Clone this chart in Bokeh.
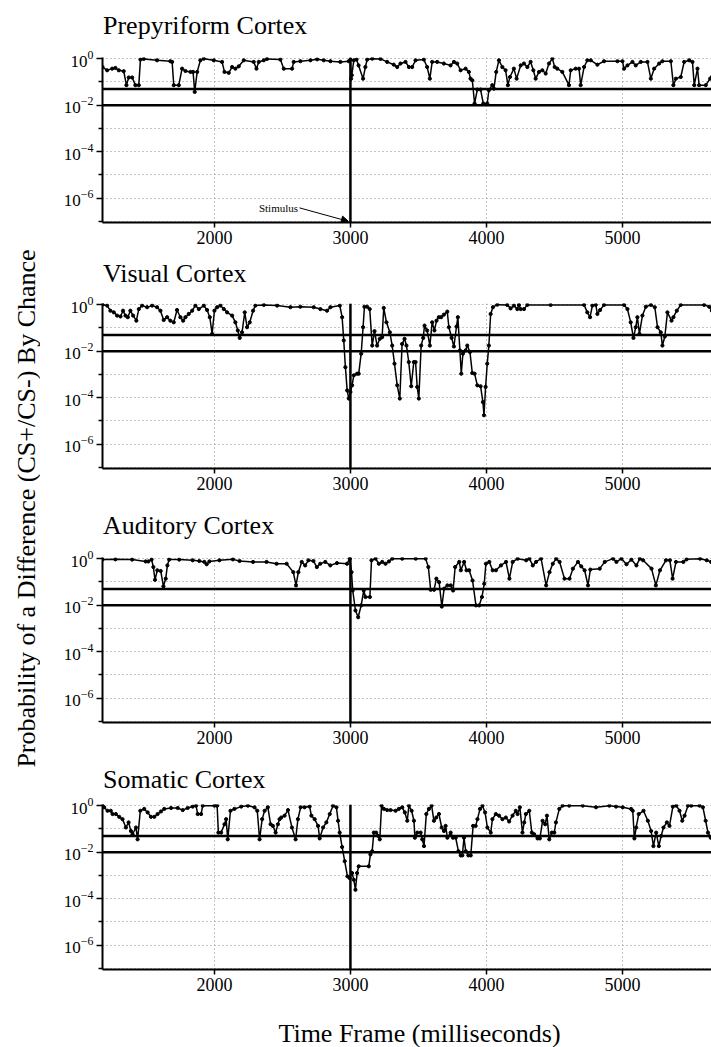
import math
from bokeh.plotting import figure
from bokeh.layouts import row, column
from bokeh.models import Range1d, FixedTicker, Span, Label, Arrow, NormalHead
from bokeh.embed import file_html
from bokeh.resources import INLINE

SERIF = "Liberation Serif"

# ---------------- data ----------------
panel_titles = ["Prepyriform Cortex", "Visual Cortex", "Auditory Cortex", "Somatic Cortex"]
x_ticks = [2000, 3000, 4000, 5000]
y_major_ticks = [1.0, 1e-2, 1e-4, 1e-6]
y_minor_ticks = [1e-1, 1e-3, 1e-5, 1e-7]
significance_levels = [0.05, 0.01]
stimulus_ms = 3000
time_window = (1177, 5655)
y_window_log10 = (-7.05, 0.05)

prepyriform_ms = [
    1177, 1211, 1248, 1272, 1297, 1333, 1353, 1370, 1395, 1419,
    1444, 1456, 1480, 1578, 1676, 1689, 1701, 1738, 1762, 1787,
    1824, 1843, 1855, 1873, 1897, 1922, 1995, 2056, 2074, 2105,
    2130, 2154, 2179, 2216, 2289, 2309, 2326, 2363, 2387, 2485,
    2510, 2571, 2583, 2632, 2706, 2755, 2804, 2853, 2926, 2988,
    3000, 3005, 3010, 3025, 3045, 3060, 3093, 3110, 3123, 3160,
    3221, 3270, 3319, 3344, 3368, 3405, 3430, 3454, 3479, 3540,
    3564, 3584, 3601, 3638, 3687, 3736, 3761, 3785, 3810, 3847,
    3871, 3883, 3896, 3913, 3933, 3957, 3977, 4006, 4018, 4043,
    4055, 4072, 4092, 4117, 4141, 4158, 4173, 4202, 4222, 4252,
    4276, 4301, 4325, 4345, 4362, 4387, 4411, 4436, 4460, 4485,
    4502, 4521, 4558, 4607, 4620, 4656, 4681, 4693, 4718, 4742,
    4767, 4816, 4865, 4963, 5000, 5012, 5037, 5074, 5098, 5135,
    5184, 5209, 5233, 5270, 5294, 5356, 5375, 5393, 5429, 5454,
    5491, 5515, 5528, 5552, 5564, 5613, 5645, 5658]
prepyriform_log10p = [
    -0.36, -0.50, -0.43, -0.40, -0.50, -0.54, -1.14, -0.81, -0.81, -1.14,
    -1.14, -0.04, -0.01, -0.07, -0.11, -0.14, -1.14, -1.14, -0.43, -0.53,
    -0.57, -0.57, -1.43, -0.57, -0.07, 0.00, -0.07, -0.14, -0.57, -0.61,
    -0.36, -0.43, -0.33, -0.07, -0.14, -0.43, -0.14, -0.07, -0.01, -0.04,
    -0.43, -0.43, -0.14, -0.11, -0.07, -0.03, -0.07, -0.11, -0.14, -0.11,
    -0.04, -0.86, -0.71, -0.07, -0.04, -0.29, -0.86, -0.36, -0.04, 0.00,
    -0.01, -0.14, -0.26, -0.36, -0.21, -0.14, -0.36, -0.36, -0.07, -0.04,
    -0.36, -0.86, -0.14, -0.14, -0.21, -0.29, -0.14, -0.21, -0.50, -0.43,
    -0.57, -0.86, -0.93, -1.93, -1.33, -1.33, -1.93, -1.93, -1.36, -1.14,
    -1.29, -0.57, -0.07, -0.36, -0.50, -1.14, -0.79, -0.43, -0.86, -0.29,
    -0.21, -0.36, -0.14, -0.50, -0.86, -0.57, -0.50, -0.64, -0.21, 0.00,
    -0.36, -0.43, -0.57, -1.14, -0.50, -0.43, -0.43, -1.14, -0.36, -0.07,
    -0.07, -0.26, -0.11, -0.11, -0.11, -0.43, -0.29, -0.14, -0.29, -0.14,
    -0.14, -0.86, -0.43, -0.21, -0.11, -0.11, -1.14, -0.86, -0.79, -0.14,
    -0.07, -0.14, -1.14, -0.43, -1.14, -1.14, -0.86, -0.79]

visual_ms = [
    1177, 1211, 1235, 1260, 1284, 1309, 1328, 1346, 1363, 1382,
    1402, 1426, 1444, 1468, 1505, 1542, 1578, 1603, 1627, 1652,
    1676, 1701, 1725, 1750, 1770, 1787, 1811, 1836, 1860, 1885,
    1922, 1946, 1966, 1983, 2000, 2020, 2044, 2069, 2093, 2130,
    2154, 2172, 2186, 2203, 2223, 2240, 2260, 2284, 2301, 2363,
    2461, 2559, 2632, 2730, 2779, 2828, 2853, 2922, 2939, 2951,
    2963, 2976, 2988, 3000, 3012, 3025, 3049, 3061, 3079, 3093,
    3103, 3123, 3142, 3160, 3177, 3196, 3216, 3233, 3245, 3265,
    3290, 3307, 3324, 3344, 3363, 3380, 3398, 3412, 3429, 3447,
    3466, 3479, 3491, 3503, 3520, 3535, 3545, 3564, 3584, 3601,
    3618, 3633, 3650, 3667, 3687, 3712, 3724, 3744, 3761, 3780,
    3790, 3805, 3815, 3827, 3847, 3859, 3879, 3896, 3913, 3933,
    3957, 3974, 3982, 3994, 4006, 4018, 4031, 4048, 4080, 4153,
    4178, 4202, 4227, 4239, 4252, 4276, 4301, 4472, 4718, 4742,
    4762, 4779, 4804, 4816, 4836, 4865, 5012, 5037, 5061, 5081,
    5098, 5110, 5125, 5147, 5172, 5209, 5238, 5258, 5282, 5294,
    5312, 5331, 5361, 5375, 5400, 5429, 5601, 5638, 5658]
visual_log10p = [
    0.00, -0.04, -0.26, -0.33, -0.47, -0.51, -0.26, -0.47, -0.54, -0.26,
    -0.47, -0.69, -0.19, -0.04, -0.11, -0.04, -0.11, -0.26, -0.66, -0.54,
    -0.69, -0.76, -0.23, -0.54, -0.69, -0.54, -0.40, -0.26, -0.04, -0.19,
    -0.04, -0.23, -0.54, -1.26, -0.26, -0.11, -0.04, -0.19, -0.33, -0.47,
    -0.76, -1.11, -1.43, -1.19, -0.33, -0.97, -0.76, -0.26, -0.04, -0.01,
    -0.04, -0.11, -0.09, -0.11, -0.19, -0.26, -0.11, -0.04, -0.54, -1.54,
    -2.69, -3.69, -4.04, -3.76, -3.47, -3.04, -2.97, -2.97, -2.11, -0.97,
    -0.09, -0.09, -0.19, -1.76, -1.14, -1.76, -1.47, -1.40, -0.14, -0.76,
    -1.19, -1.76, -2.54, -3.47, -4.04, -1.69, -1.47, -1.76, -2.47, -3.51,
    -2.47, -2.47, -3.54, -4.04, -1.76, -1.43, -0.90, -1.11, -1.76, -0.76,
    -1.11, -0.69, -0.54, -0.54, -0.43, -0.30, -0.97, -1.43, -1.80, -0.94,
    -0.54, -1.97, -2.97, -2.11, -1.97, -1.76, -2.04, -2.94, -2.97, -3.47,
    -3.51, -4.19, -4.76, -3.54, -2.54, -1.76, -0.40, -0.11, 0.00, -0.01,
    -0.16, -0.04, -0.19, -0.01, -0.19, -0.19, -0.01, -0.01, -0.01, -0.33,
    -0.54, -0.04, -0.01, -0.40, -0.23, -0.01, -0.01, -0.19, -0.76, -1.43,
    -0.97, -0.54, -1.26, -0.47, -0.09, -0.01, -0.11, -0.97, -1.19, -1.76,
    -1.37, -0.33, -0.69, -0.54, -0.26, -0.01, -0.01, -0.09, -0.26]

auditory_ms = [
    1177, 1272, 1395, 1494, 1514, 1538, 1551, 1563, 1580, 1605,
    1625, 1642, 1654, 1667, 1741, 1840, 1889, 1926, 1943, 1963,
    2037, 2136, 2185, 2284, 2383, 2457, 2531, 2580, 2600, 2617,
    2642, 2667, 2691, 2728, 2753, 2778, 2815, 2852, 2901, 2975,
    2995, 3008, 3017, 3037, 3057, 3079, 3098, 3111, 3143, 3155,
    3185, 3209, 3234, 3258, 3283, 3308, 3381, 3480, 3553, 3573,
    3590, 3615, 3632, 3652, 3672, 3689, 3713, 3738, 3755, 3770,
    3800, 3812, 3836, 3854, 3873, 3898, 3923, 3947, 3967, 3984,
    3996, 4021, 4046, 4070, 4107, 4144, 4169, 4193, 4230, 4292,
    4316, 4341, 4365, 4402, 4439, 4464, 4488, 4513, 4538, 4574,
    4611, 4636, 4673, 4697, 4722, 4747, 4764, 4833, 4870, 4931,
    4956, 4993, 5030, 5066, 5103, 5128, 5152, 5214, 5246, 5276,
    5320, 5349, 5369, 5394, 5448, 5472, 5571, 5620, 5652]
auditory_log10p = [
    -0.04, -0.03, -0.04, -0.12, -0.12, -0.04, -0.36, -0.91, -0.50, -0.53,
    -1.19, -0.86, -0.29, -0.04, -0.04, -0.07, -0.10, -0.14, -0.24, -0.12,
    -0.07, -0.03, -0.10, -0.14, -0.14, -0.22, -0.22, -0.58, -1.15, -0.58,
    -0.14, -0.29, -0.07, -0.10, -0.36, -0.22, -0.14, -0.29, -0.19, -0.22,
    0.00, -0.58, -1.37, -2.23, -2.52, -2.01, -1.37, -1.65, -1.65, -0.07,
    0.00, -0.22, -0.14, -0.22, -0.12, 0.00, 0.00, 0.00, 0.00, -0.36,
    -1.34, -1.34, -0.86, -1.01, -2.06, -1.29, -1.15, -1.15, -1.37, -0.36,
    -0.14, -0.50, -0.14, -0.50, -0.50, -0.94, -2.01, -2.01, -1.65, -1.08,
    -0.22, -0.14, -0.50, -0.50, -0.29, -0.14, -0.86, -0.14, 0.00, -0.07,
    0.00, -0.29, -0.14, 0.00, -1.15, -0.58, -0.22, 0.00, -0.14, -0.86,
    -0.86, -0.43, -0.14, -0.33, -0.50, -1.15, -0.47, -0.43, -0.14, 0.00,
    -0.14, 0.00, -0.24, -0.04, -0.29, 0.00, -0.07, -0.43, -1.15, -0.50,
    -0.07, -0.07, -0.86, -0.14, -0.14, -0.03, 0.00, -0.07, -0.14]

somatic_ms = [
    1177, 1189, 1214, 1238, 1251, 1275, 1300, 1324, 1349, 1369,
    1386, 1398, 1423, 1435, 1455, 1484, 1509, 1533, 1558, 1582,
    1607, 1631, 1681, 1730, 1767, 1803, 1840, 1865, 1877, 1902,
    1914, 2000, 2020, 2029, 2049, 2074, 2086, 2098, 2118, 2147,
    2197, 2246, 2295, 2315, 2332, 2351, 2369, 2393, 2413, 2430,
    2450, 2467, 2479, 2491, 2516, 2541, 2570, 2597, 2614, 2634,
    2663, 2700, 2713, 2737, 2762, 2774, 2799, 2823, 2848, 2872,
    2897, 2909, 2921, 2939, 2958, 2978, 2995, 3012, 3025, 3037,
    3049, 3061, 3135, 3147, 3160, 3172, 3189, 3204, 3216, 3229,
    3246, 3270, 3295, 3332, 3356, 3381, 3400, 3418, 3430, 3450,
    3467, 3474, 3491, 3516, 3528, 3541, 3558, 3577, 3597, 3614,
    3631, 3651, 3671, 3688, 3700, 3713, 3737, 3754, 3774, 3794,
    3811, 3823, 3835, 3848, 3867, 3885, 3902, 3921, 3934, 3953,
    3971, 3990, 4007, 4032, 4044, 4069, 4093, 4118, 4143, 4167,
    4192, 4216, 4229, 4246, 4265, 4278, 4290, 4315, 4334, 4351,
    4376, 4393, 4413, 4432, 4445, 4462, 4481, 4499, 4511, 4536,
    4560, 4609, 4708, 4806, 4904, 4953, 5002, 5064, 5076, 5088,
    5101, 5120, 5155, 5187, 5211, 5228, 5248, 5268, 5285, 5302,
    5327, 5346, 5371, 5396, 5420, 5440, 5457, 5482, 5506, 5567,
    5592, 5612, 5629, 5649]
somatic_log10p = [
    0.00, -0.07, -0.22, -0.22, -0.36, -0.36, -0.48, -0.58, -0.94, -0.72,
    -1.09, -1.23, -0.94, -1.45, -0.22, -0.14, -0.29, -0.48, -0.48, -0.36,
    -0.25, -0.14, -0.10, -0.10, -0.19, -0.10, -0.04, 0.00, -0.36, -0.36,
    0.00, 0.00, 0.00, -1.16, -1.16, -0.80, -0.58, -1.45, -0.22, -0.14,
    -0.04, 0.00, -0.07, -0.22, -1.45, -0.58, -0.22, -0.07, -0.80, -0.87,
    -1.16, -0.80, -0.58, -0.51, -0.43, -0.19, -0.94, -1.45, -0.58, -0.07,
    -0.07, -0.04, -0.43, -0.58, -0.87, -1.41, -0.94, -0.72, -0.36, 0.00,
    -0.07, -0.65, -1.16, -1.78, -2.39, -3.04, -3.12, -2.90, -3.19, -3.62,
    -2.90, -2.61, -2.61, -2.10, -1.96, -1.16, -1.16, -1.30, -1.45, 0.00,
    -0.14, -0.19, -0.19, -0.22, -0.14, -0.07, -0.29, -0.65, 0.00, -0.22,
    -0.65, -1.38, -1.16, -1.16, -1.45, -1.74, -0.36, -0.14, 0.00, -0.65,
    -0.51, -0.36, -0.94, -1.09, -0.87, -1.38, -1.16, -1.38, -1.38, -1.96,
    -2.14, -2.14, -1.38, -1.96, -2.14, -2.14, -0.87, -0.87, -0.58, -0.14,
    0.00, -0.29, -0.94, -1.16, -0.58, -0.36, -0.43, -0.58, -0.51, -0.68,
    -0.43, -0.22, -0.36, -0.07, -1.16, -0.72, -0.36, -0.22, -1.16, -1.23,
    -1.41, -1.41, -0.65, -0.80, -0.43, -1.45, -1.16, -1.16, -0.72, -0.14,
    0.00, 0.00, 0.00, -0.07, 0.00, -0.04, -0.07, -0.14, -0.22, -1.41,
    -0.94, -0.36, -0.22, -0.65, -1.09, -1.74, -1.16, -1.74, -1.30, -0.94,
    -0.72, -0.87, -0.04, 0.00, -0.22, -0.65, -0.43, 0.00, 0.00, 0.00,
    -0.07, -0.65, -1.16, -1.38]

series = [
    (prepyriform_ms, prepyriform_log10p),
    (visual_ms, visual_log10p),
    (auditory_ms, auditory_log10p),
    (somatic_ms, somatic_log10p),
]

# ---------------- layout settings ----------------
LEFT_W = 40
PANEL_W = 671
TOTAL_H = 1047
FRAME_LEFT = 102          # frames of all stacked plots are aligned here
# title strip: (height, text-centre distance from strip bottom)
title_strips = [(45, 20), (40, 17), (40, 15), (37, 15)]
# panel: (height, border_top, border_bottom)
panel_geom = [(205, 12, 28), (210, 13, 32), (217, 17, 35), (207, 10, 32)]
XLABEL_H = 46
GRID_COLOR = "#8a8a8a"


def text_strip(height, width, text, x, y, size, angle=0.0, align="left"):
    s = figure(width=width, height=height,
               x_range=Range1d(0, 1), y_range=Range1d(0, 1),
               toolbar_location=None, output_backend="svg",
               x_axis_location=None, y_axis_location=None, min_border=0)
    s.outline_line_color = None
    s.grid.visible = False
    s.add_layout(Label(x=x, y=y, x_units="screen", y_units="screen", text=text,
                       angle=angle, text_align=align, text_baseline="middle",
                       text_font=SERIF, text_font_size=size, text_color="black"))
    return s


def make_panel(ms, logp, geom):
    h, bt, bb = geom
    p = figure(width=PANEL_W, height=h,
               x_range=Range1d(*time_window),
               y_range=Range1d(10 ** y_window_log10[0], 10 ** y_window_log10[1]),
               y_axis_type="log",
               toolbar_location=None, output_backend="svg",
               min_border_left=FRAME_LEFT - LEFT_W, min_border_right=0,
               min_border_top=bt, min_border_bottom=bb)
    p.outline_line_color = None
    p.background_fill_color = "white"
    p.border_fill_color = "white"

    xt = FixedTicker(ticks=x_ticks, minor_ticks=[])
    yt = FixedTicker(ticks=y_major_ticks, minor_ticks=y_minor_ticks)
    p.xaxis.ticker = xt
    p.yaxis.ticker = yt
    p.xgrid.ticker = xt
    p.ygrid.ticker = yt

    for ax in (p.xaxis[0], p.yaxis[0]):
        ax.axis_line_width = 2
        ax.axis_line_color = "black"
        ax.major_tick_line_width = 1.5
        ax.major_tick_line_color = "black"
        ax.minor_tick_line_width = 1.5
        ax.minor_tick_line_color = "black"
        ax.major_tick_in = 0
        ax.minor_tick_in = 0
        ax.major_label_text_font = SERIF
        ax.major_label_text_color = "black"
    p.xaxis.major_tick_out = 5
    p.xaxis.minor_tick_out = 0
    p.xaxis.major_label_text_font_size = "18px"
    p.xaxis.major_label_standoff = 3
    p.yaxis.major_tick_out = 6
    p.yaxis.minor_tick_out = 4
    p.yaxis.major_label_text_font_size = "17px"
    p.yaxis.major_label_standoff = 3

    for g in (p.xgrid[0], p.ygrid[0]):
        g.grid_line_color = GRID_COLOR
        g.grid_line_dash = "1 3"
        g.grid_line_width = 1
    p.ygrid.minor_grid_line_color = GRID_COLOR
    p.ygrid.minor_grid_line_dash = "1 3"
    p.ygrid.minor_grid_line_width = 1

    for lvl in significance_levels:
        p.add_layout(Span(location=lvl, dimension="width",
                          line_color="black", line_width=2.5))
    p.add_layout(Span(location=stimulus_ms, dimension="height",
                      line_color="black", line_width=2.5))

    pv = [10 ** v for v in logp]
    p.line(ms, pv, line_color="black", line_width=1.5)
    p.scatter(ms, pv, size=3.2, color="black")
    return p


stack = []
panels = []
for i, (title, (ms, lp)) in enumerate(zip(panel_titles, series)):
    th, tc = title_strips[i]
    # strip frames are aligned with the panel frames (left edge at FRAME_LEFT)
    stack.append(text_strip(th, PANEL_W, title, 0.5, tc, "26px"))
    p = make_panel(ms, lp, panel_geom[i])
    panels.append(p)
    stack.append(p)

# stimulus annotation in the first panel
p0 = panels[0]
p0.add_layout(Label(x=2615, y=10 ** -6.43, text="Stimulus", text_align="right",
                    text_baseline="middle", text_font=SERIF,
                    text_font_size="11px", text_color="black"))
p0.add_layout(Arrow(end=NormalHead(size=7, fill_color="black", line_color="black"),
                    x_start=2625, y_start=10 ** -6.42,
                    x_end=2985, y_end=10 ** -7.0,
                    line_color="black", line_width=1))

# x-axis label strip
stack.append(text_strip(XLABEL_H, PANEL_W, "Time Frame (milliseconds)",
                        419 - FRAME_LEFT, 14, "26px", align="center"))

# shared y-axis label column
yl = text_strip(TOTAL_H, LEFT_W, "Probability of a Difference (CS+/CS-) By Chance",
                26, TOTAL_H - 508, "26px", angle=math.pi / 2, align="center")

layout = row(yl, column(*stack))
open("out.html", "w").write(file_html(layout, INLINE))
